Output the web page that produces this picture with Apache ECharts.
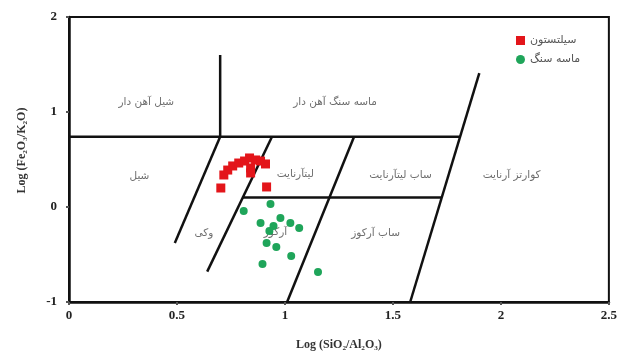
<!DOCTYPE html>
<html>
<head>
<meta charset="utf-8">
<script src="https://cdn.jsdelivr.net/npm/echarts@6/dist/echarts.min.js"></script>
<style>
  html, body { margin: 0; padding: 0; background: #fff; }
  #chart { width: 620px; height: 356px; }
</style>
</head>
<body>
<div id="chart"></div>
<script>
// Axis ranges and ticks
const xTicks = [0, 0.5, 1, 1.5, 2, 2.5];
const yTicks = [-1, 0, 1, 2];

// Samples: [log(SiO2/Al2O3), log(Fe2O3/K2O)]
const siltstone = [
  [0.703, 0.200], [0.717, 0.337], [0.735, 0.389], [0.758, 0.432],
  [0.786, 0.463], [0.813, 0.484], [0.836, 0.516], [0.864, 0.495],
  [0.887, 0.484], [0.910, 0.453], [0.841, 0.411], [0.841, 0.358],
  [0.915, 0.211]
];
const sandstone = [
  [0.809, -0.042], [0.933, 0.032], [0.887, -0.168], [0.947, -0.200],
  [0.979, -0.116], [1.025, -0.168], [1.066, -0.221], [0.928, -0.253],
  [0.915, -0.379], [0.960, -0.421], [1.029, -0.516], [0.896, -0.600],
  [1.153, -0.684]
];

// Classification field boundaries (Herron diagram), each a two-point segment
const boundarySegments = [
  [[0, 0.74], [1.81, 0.74]],
  [[0.70, 0.74], [0.70, 1.6]],
  [[0.805, 0.1], [1.726, 0.1]],
  [[0.49, -0.38], [0.70, 0.74]],
  [[0.64, -0.68], [0.94, 0.74]],
  [[1.01, -1], [1.32, 0.74]],
  [[1.58, -1], [1.90, 1.41]]
];

// Field names and where they sit in the diagram
const fieldNames = ['شیل آهن دار', 'ماسه سنگ آهن دار', 'شیل', 'لیتآرنایت', 'ساب لیتآرنایت', 'کوارتز آرنایت', 'وکی', 'آرکوز', 'ساب آرکوز'];
const fieldX = [0.358, 1.232, 0.326, 1.048, 1.535, 2.05, 0.625, 0.956, 1.42];
const fieldY = [1.105, 1.105, 0.319, 0.347, 0.337, 0.337, -0.274, -0.263, -0.274];

const seriesNames = ['سیلتستون', 'ماسه سنگ'];

const chart = echarts.init(document.getElementById('chart'));

const tickFont = { fontFamily: 'Liberation Serif', fontWeight: 'bold', fontSize: 13, color: '#222' };

const lineSeries = boundarySegments.map(seg => ({
  type: 'line',
  data: seg,
  symbol: 'none',
  silent: true,
  lineStyle: { color: '#111', width: 2.5 },
  z: 3
}));

chart.setOption({
  animation: false,
  grid: { left: 69, right: 7, top: 17, bottom: 54, show: true, borderColor: '#111', borderWidth: 2 },
  legend: {
    left: 511, top: 30, orient: 'vertical',
    itemWidth: 9, itemHeight: 9, itemGap: 8,
    textStyle: { fontFamily: 'DejaVu Sans', fontSize: 11, color: '#555' },
    data: [
      { name: seriesNames[0], icon: 'rect' },
      { name: seriesNames[1], icon: 'circle' }
    ]
  },
  xAxis: {
    type: 'value', min: xTicks[0], max: xTicks[xTicks.length - 1], interval: 0.5,
    name: 'Log (SiO₂/Al₂O₃)', nameLocation: 'middle', nameGap: 37,
    nameTextStyle: { fontFamily: 'Liberation Serif', fontWeight: 'bold', fontSize: 12, color: '#333' },
    axisLine: { onZero: false, lineStyle: { color: '#111', width: 2.5 } },
    axisTick: { length: 3, lineStyle: { color: '#555', width: 2 } },
    axisLabel: Object.assign({ margin: 7 }, tickFont),
    splitLine: { show: false }
  },
  yAxis: {
    type: 'value', min: yTicks[0], max: yTicks[yTicks.length - 1], interval: 1,
    name: 'Log (Fe₂O₃/K₂O)', nameLocation: 'middle', nameGap: 41,
    nameTextStyle: { fontFamily: 'Liberation Serif', fontWeight: 'bold', fontSize: 12, color: '#333', padding: [0, 0, 0, 18] },
    axisLine: { onZero: false, lineStyle: { color: '#111', width: 2.5 } },
    axisTick: { length: 3, lineStyle: { color: '#555', width: 2 } },
    axisLabel: Object.assign({ margin: 12 }, tickFont),
    splitLine: { show: false }
  },
  series: lineSeries.concat([
    {
      type: 'scatter',
      data: fieldX.map((x, i) => [x, fieldY[i], fieldNames[i]]),
      symbolSize: 0,
      silent: true,
      label: {
        show: true, position: 'inside',
        formatter: p => p.data[2],
        fontFamily: 'DejaVu Sans', fontSize: 10.5, color: '#4a4a4a'
      },
      z: 2
    },
    {
      name: seriesNames[0], type: 'scatter', data: siltstone,
      symbol: 'rect', symbolSize: 9,
      itemStyle: { color: '#e3151a', opacity: 1 }, z: 4
    },
    {
      name: seriesNames[1], type: 'scatter', data: sandstone,
      symbol: 'circle', symbolSize: 8,
      itemStyle: { color: '#1fa55a', opacity: 1 }, z: 4
    }
  ])
});
</script>
</body>
</html>
